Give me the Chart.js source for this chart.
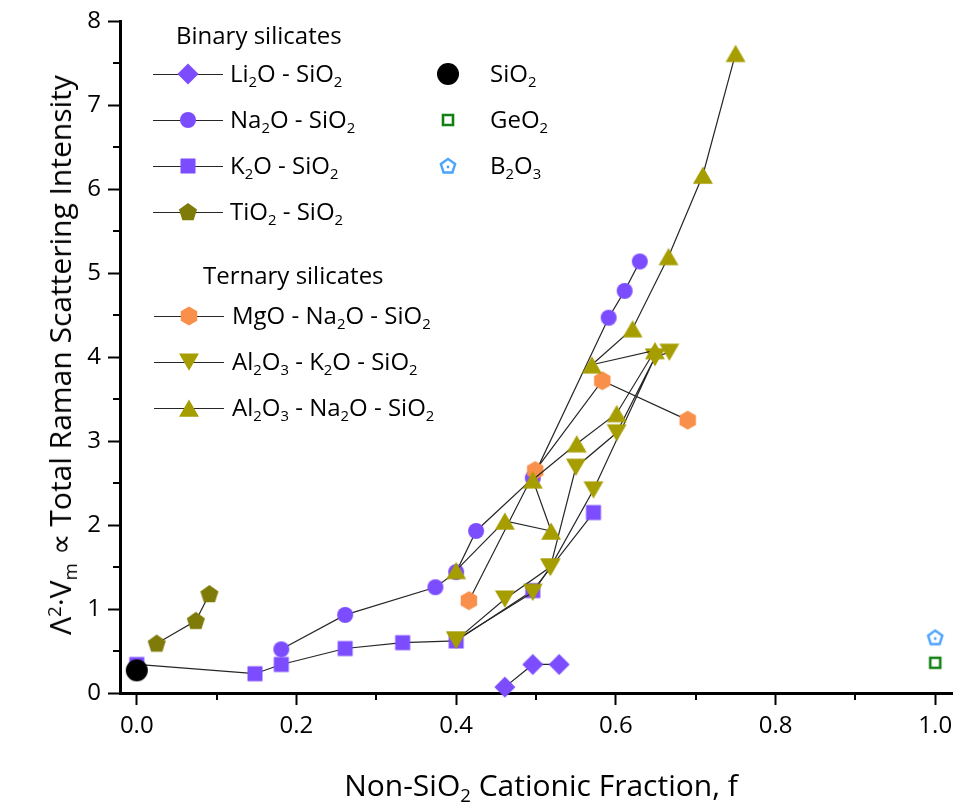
<!DOCTYPE html>
<html><head><meta charset="utf-8">
<script src="https://cdn.jsdelivr.net/npm/chart.js@4.4.0/dist/chart.umd.min.js"></script>
<style>
html,body{margin:0;padding:0;background:#fff;}
#wrap{position:relative;width:962px;height:810px;font-family:"Open Sans",sans-serif;color:#000;overflow:hidden;}
#c{position:absolute;left:0;top:0;}
.t{position:absolute;white-space:nowrap;line-height:1;z-index:2;}
.t sub{font-size:62%;line-height:0;vertical-align:-0.32em;}
.t sup{font-size:62%;line-height:0;vertical-align:0.55em;}
</style></head><body>
<div id="wrap"><canvas id="c" width="962" height="810"></canvas></div>
<script>
// ---------------- data ----------------
const xTicks = [0.0, 0.2, 0.4, 0.6, 0.8, 1.0];
const yTicks = [0, 1, 2, 3, 4, 5, 6, 7, 8];

const liF  = [0.461, 0.496, 0.529];
const liV  = [0.07, 0.34, 0.34];
const naF  = [0.181, 0.261, 0.374, 0.400, 0.425, 0.496, 0.591, 0.611, 0.630];
const naV  = [0.52, 0.93, 1.26, 1.44, 1.93, 2.56, 4.47, 4.79, 5.14];
const kF   = [0.000, 0.148, 0.181, 0.261, 0.333, 0.400, 0.496, 0.572];
const kV   = [0.34, 0.23, 0.34, 0.53, 0.60, 0.62, 1.22, 2.15];
const tiF  = [0.025, 0.074, 0.091];
const tiV  = [0.59, 0.86, 1.18];
const mgF  = [0.416, 0.499, 0.583, 0.690];
const mgV  = [1.10, 2.65, 3.72, 3.25];
// null = break in the connecting line
const alkF = [0.400, 0.461, 0.518, 0.550, 0.601, 0.649, 0.667, null, 0.400, 0.496, 0.518, 0.572, 0.649];
const alkV = [0.63, 1.12, 1.50, 2.69, 3.10, 4.00, 4.06, null, 0.63, 1.20, 1.50, 2.42, 4.00];
const alnF = [0.400, 0.461, 0.519, 0.496, 0.551, 0.601, 0.649, 0.570, 0.621, 0.666, 0.709, 0.750];
const alnV = [1.46, 2.05, 1.93, 2.54, 2.97, 3.33, 4.08, 3.91, 4.34, 5.20, 6.17, 7.62];
const sio2F = [0.000], sio2V = [0.27];
const geo2F = [1.000], geo2V = [0.36];
const b2o3F = [1.000], b2o3V = [0.66];

// ---------------- markers ----------------
function makeMarker(shape, r, fill, stroke, lw, dot) {
  const pad = Math.ceil(lw || 0) + 2;
  let dim = Math.ceil(r * 2 + pad * 2); if (dim % 2) dim++;
  const c = document.createElement('canvas'); c.width = dim; c.height = dim;
  const g = c.getContext('2d'); const cx = dim / 2, cy = dim / 2;
  g.beginPath();
  const poly = (n, rot, dy) => { for (let i = 0; i < n; i++) { const a = rot + i * 2 * Math.PI / n;
      const px = cx + r * Math.sin(a), py = cy + (dy||0) - r * Math.cos(a); i ? g.lineTo(px, py) : g.moveTo(px, py); } g.closePath(); };
  if (shape === 'circle') g.arc(cx, cy, r, 0, 2 * Math.PI);
  else if (shape === 'square') g.rect(cx - r, cy - r, 2 * r, 2 * r);
  else if (shape === 'diamond') poly(4, 0);
  else if (shape === 'tri') poly(3, 0, r * 0.25);
  else if (shape === 'tridown') poly(3, Math.PI, -r * 0.25);
  else if (shape === 'pent') poly(5, 0, r * 0.05);
  else if (shape === 'hex') poly(6, 0);
  if (fill) { g.fillStyle = fill; g.fill(); }
  if (stroke) { g.lineWidth = lw; g.strokeStyle = stroke; g.lineJoin = 'miter'; g.stroke(); }
  if (dot) { g.beginPath(); g.arc(cx, cy + 1, 1.4, 0, 2 * Math.PI); g.fillStyle = stroke; g.fill(); }
  return c;
}
const PURPLE = '#7C4DFF', OLIVE = '#A69E00', DOLIVE = '#7E7B08', ORANGE = '#F8904B';
const mk = {
  li: makeMarker('diamond', 10.5, PURPLE),
  na: makeMarker('circle', 8, PURPLE),
  k: makeMarker('square', 7.5, PURPLE),
  ti: makeMarker('pent', 9.5, DOLIVE),
  mg: makeMarker('hex', 9.5, ORANGE),
  alk: makeMarker('tridown', 11.5, OLIVE),
  aln: makeMarker('tri', 11.5, OLIVE),
  sio2: makeMarker('circle', 11, '#000'),
  geo2: makeMarker('square', 5, null, '#138013', 2.6),
  b2o3: makeMarker('pent', 7.5, null, '#4AA3FF', 2.4, true)
};

const pts = (fs, vs) => fs.map((f, i) => ({ x: f, y: vs[i] }));
function ds(label, fs, vs, style, order, line) {
  return { label, data: pts(fs, vs), pointStyle: style, pointRadius: 8, pointHoverRadius: 8,
    showLine: line, borderColor: '#262626', borderWidth: 1.2, backgroundColor: 'rgba(0,0,0,0)',
    spanGaps: false, clip: false, order };
}
const datasets = [
  ds('Li2O - SiO2', liF, liV, mk.li, 8, true),
  ds('Na2O - SiO2', naF, naV, mk.na, 7, true),
  ds('K2O - SiO2', kF, kV, mk.k, 6, true),
  ds('TiO2 - SiO2', tiF, tiV, mk.ti, 5, true),
  ds('MgO - Na2O - SiO2', mgF, mgV, mk.mg, 4, true),
  ds('Al2O3 - K2O - SiO2', alkF, alkV, mk.alk, 3, true),
  ds('Al2O3 - Na2O - SiO2', alnF, alnV, mk.aln, 2, true),
  ds('SiO2', sio2F, sio2V, mk.sio2, 0, false),
  ds('GeO2', geo2F, geo2V, mk.geo2, 1, false),
  ds('B2O3', b2o3F, b2o3V, mk.b2o3, 1, false)
];

// legend layout (pixel positions of the legend block)
const legendRows = [
  { text: 'Binary silicates', x: 176, y: 36 },
  { text: 'Li<sub>2</sub>O - SiO<sub>2</sub>', x: 230, y: 74, m: mk.li, lx: 188 },
  { text: 'Na<sub>2</sub>O - SiO<sub>2</sub>', x: 230, y: 120, m: mk.na, lx: 188 },
  { text: 'K<sub>2</sub>O - SiO<sub>2</sub>', x: 230, y: 166, m: mk.k, lx: 188 },
  { text: 'TiO<sub>2</sub> - SiO<sub>2</sub>', x: 230, y: 212, m: mk.ti, lx: 188 },
  { text: 'Ternary silicates', x: 203, y: 276 },
  { text: 'MgO - Na<sub>2</sub>O - SiO<sub>2</sub>', x: 232, y: 316, m: mk.mg, lx: 189 },
  { text: 'Al<sub>2</sub>O<sub>3</sub> - K<sub>2</sub>O - SiO<sub>2</sub>', x: 232, y: 362, m: mk.alk, lx: 189 },
  { text: 'Al<sub>2</sub>O<sub>3</sub> - Na<sub>2</sub>O - SiO<sub>2</sub>', x: 232, y: 408, m: mk.aln, lx: 189 },
  { text: 'SiO<sub>2</sub>', x: 490, y: 74, m: mk.sio2, lx: 448, noLine: true },
  { text: 'GeO<sub>2</sub>', x: 490, y: 120, m: mk.geo2, lx: 448, noLine: true },
  { text: 'B<sub>2</sub>O<sub>3</sub>', x: 490, y: 166, m: mk.b2o3, lx: 448, noLine: true }
];
const LFS = 24;
const wrap = document.getElementById('wrap');
legendRows.forEach(r => {
  const d = document.createElement('div'); d.className = 't';
  d.style.fontSize = LFS + 'px'; d.style.left = r.x + 'px'; d.style.top = (r.y - 0.531 * LFS) + 'px';
  d.innerHTML = r.text; wrap.appendChild(d);
});
const yt = document.createElement('div'); yt.className = 't';
yt.style.cssText = 'left:60px;top:355px;font-size:30px;transform:translate(-50%,-50%) rotate(-90deg);';
yt.innerHTML = 'Λ<sup>2</sup>·V<sub>m</sub> ∝ Total Raman Scattering Intensity';
wrap.appendChild(yt);
const xt = document.createElement('div'); xt.className = 't';
xt.style.cssText = 'left:541px;top:770px;font-size:30px;transform:translateX(-50%);';
xt.innerHTML = 'Non-SiO<sub>2</sub> Cationic Fraction, f';
wrap.appendChild(xt);

const extras = {
  id: 'extras',
  afterDraw(chart) {
    const ctx = chart.ctx, xs = chart.scales.x, ys = chart.scales.y, a = chart.chartArea;
    ctx.save();
    ctx.strokeStyle = '#000'; ctx.lineWidth = 2;
    for (let i = 0; i < xTicks.length - 1; i++) {
      const px = Math.round(xs.getPixelForValue((xTicks[i] + xTicks[i + 1]) / 2));
      ctx.beginPath(); ctx.moveTo(px, a.bottom); ctx.lineTo(px, a.bottom + 7); ctx.stroke();
    }
    for (let i = 0; i < yTicks.length - 1; i++) {
      const py = Math.round(ys.getPixelForValue((yTicks[i] + yTicks[i + 1]) / 2));
      ctx.beginPath(); ctx.moveTo(a.left, py); ctx.lineTo(a.left - 7, py); ctx.stroke();
    }
    // legend symbols
    ctx.strokeStyle = '#262626'; ctx.lineWidth = 1.2;
    legendRows.forEach(r => {
      if (!r.m) return;
      if (!r.noLine) { ctx.beginPath(); ctx.moveTo(r.lx - 35, r.y + 0.5); ctx.lineTo(r.lx + 35, r.y + 0.5); ctx.stroke(); }
      ctx.drawImage(r.m, Math.round(r.lx - r.m.width / 2), Math.round(r.y - r.m.height / 2));
    });
    ctx.restore();
  }
};

new Chart(document.getElementById('c'), {
  type: 'scatter',
  data: { datasets },
  options: {
    responsive: false, animation: false, devicePixelRatio: 1,
    layout: { padding: { left: 0, right: 4, top: 17, bottom: 0 } },
    plugins: { legend: { display: false }, tooltip: { enabled: false } },
    scales: {
      x: {
        type: 'linear', min: -0.021, max: 1.022,
        afterFit(s) { s.height = 117; },
        afterBuildTicks(s) { s.ticks = xTicks.map(v => ({ value: v })); },
        ticks: { callback: v => v.toFixed(1), font: { family: 'Open Sans', size: 24 }, color: '#000', padding: 7, maxRotation: 0 },
        grid: { display: true, drawOnChartArea: false, drawTicks: true, tickLength: 12, tickWidth: 2, tickColor: '#000' },
        border: { display: true, color: '#000', width: 3 }
      },
      y: {
        type: 'linear', min: 0, max: 8,
        afterFit(s) { s.width = 120; },
        afterBuildTicks(s) { s.ticks = yTicks.map(v => ({ value: v })); },
        ticks: { callback: v => String(v), font: { family: 'Open Sans', size: 24 }, color: '#000', padding: 7 },
        grid: { display: true, drawOnChartArea: false, drawTicks: true, tickLength: 12, tickWidth: 2, tickColor: '#000' },
        border: { display: true, color: '#000', width: 3 }
      }
    }
  },
  plugins: [extras]
});
</script>
</body></html>
